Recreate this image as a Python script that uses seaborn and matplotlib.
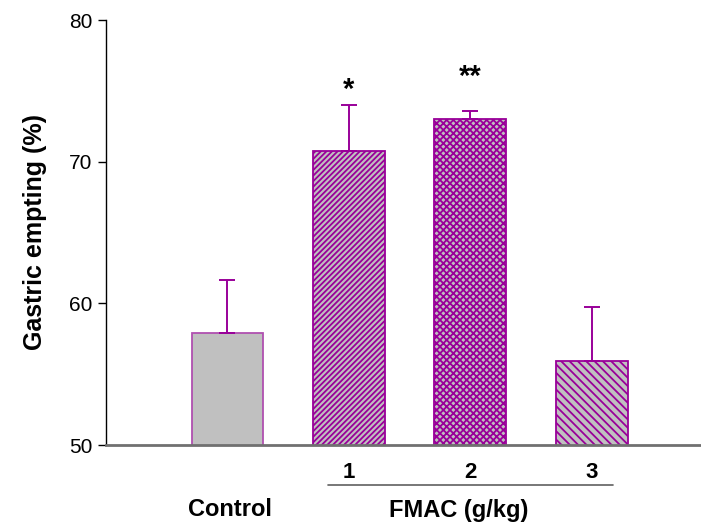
import matplotlib
matplotlib.use("Agg")
import matplotlib.pyplot as plt
import seaborn as sns
import pandas as pd
from matplotlib.lines import Line2D

# Data
groups = ["Control", "1", "2", "3"]
means = [57.9, 70.75, 73.0, 55.93]
sem = [3.74, 3.22, 0.57, 3.81]
tick_labels = ["", "1", "2", "3"]
signif = ["", "*", "**", ""]
signif_y = [0, 74.5, 75.4, 0]

sns.set_style("white")
plt.rcParams['font.family'] = ['Liberation Sans', 'DejaVu Sans']
plt.rcParams['hatch.linewidth'] = 1.3
plt.rcParams['text.color'] = 'black'
plt.rcParams['axes.labelcolor'] = 'black'
plt.rcParams['xtick.color'] = 'black'
plt.rcParams['ytick.color'] = 'black'

df = pd.DataFrame({"group": groups, "mean": means})

fig = plt.figure(figsize=(7.01, 5.28), dpi=100)
ax = fig.add_axes([106/701, 1-445/528, 1-106/701, (445-20)/528])

purple = "#990099"
sns.barplot(data=df, x="group", y="mean", order=groups, color="#c0c0c0",
            width=0.59, ax=ax, errorbar=None, saturation=1)

hatches = ["", "//////", "xxxxx", "\\\\\\\\"]
edgecols = ["#b050b0", purple, purple, purple]
for p, h, ec in zip(ax.patches, hatches, edgecols):
    p.set_hatch(h)
    p.set_edgecolor(ec)
    p.set_linewidth(1.3)
    p.set_facecolor("#c0c0c0")

ax.errorbar(range(len(groups)), means, yerr=[[0]*len(sem), sem], fmt="none",
            ecolor=purple, elinewidth=1.4, capsize=6, capthick=1.4, zorder=1)

for i, s in enumerate(signif):
    if s:
        ax.text(i, signif_y[i], s, ha="center", va="baseline",
                fontsize=21, fontweight="bold", color="black")

ax.set_ylim(50, 80)
ax.set_xlim(-1.0, 3.9)
ax.set_yticks([50, 60, 70, 80])
ax.set_xticks(range(len(groups)))
ax.set_xticklabels(tick_labels, fontsize=16, fontweight="bold")
ax.tick_params(axis="x", length=0, pad=12, colors="black")
ax.tick_params(axis="y", direction="out", length=6, width=1, labelsize=15,
               left=True, pad=4, colors="black")
ax.set_xlabel("")
ax.set_ylabel("Gastric empting (%)", fontsize=18, fontweight="bold", labelpad=16,
              color="black")

for s in ["top", "right"]:
    ax.spines[s].set_visible(False)
ax.spines["left"].set_color("black")
ax.spines["left"].set_linewidth(1.0)
ax.spines["bottom"].set_color("#707070")
ax.spines["bottom"].set_linewidth(2.0)

trans = ax.get_xaxis_transform()
ax.add_line(Line2D([0.825, 3.175], [-40/425, -40/425], transform=trans,
                   color="#606060", lw=1.2, clip_on=False))
ax.text(0.02, -65/425, "Control", transform=trans, ha="center", va="center",
        fontsize=17, fontweight="bold", color="black")
ax.text(1.905, -65/425, "FMAC (g/kg)", transform=trans, ha="center", va="center",
        fontsize=17, fontweight="bold", color="black")

fig.savefig("out.png", dpi=100)
